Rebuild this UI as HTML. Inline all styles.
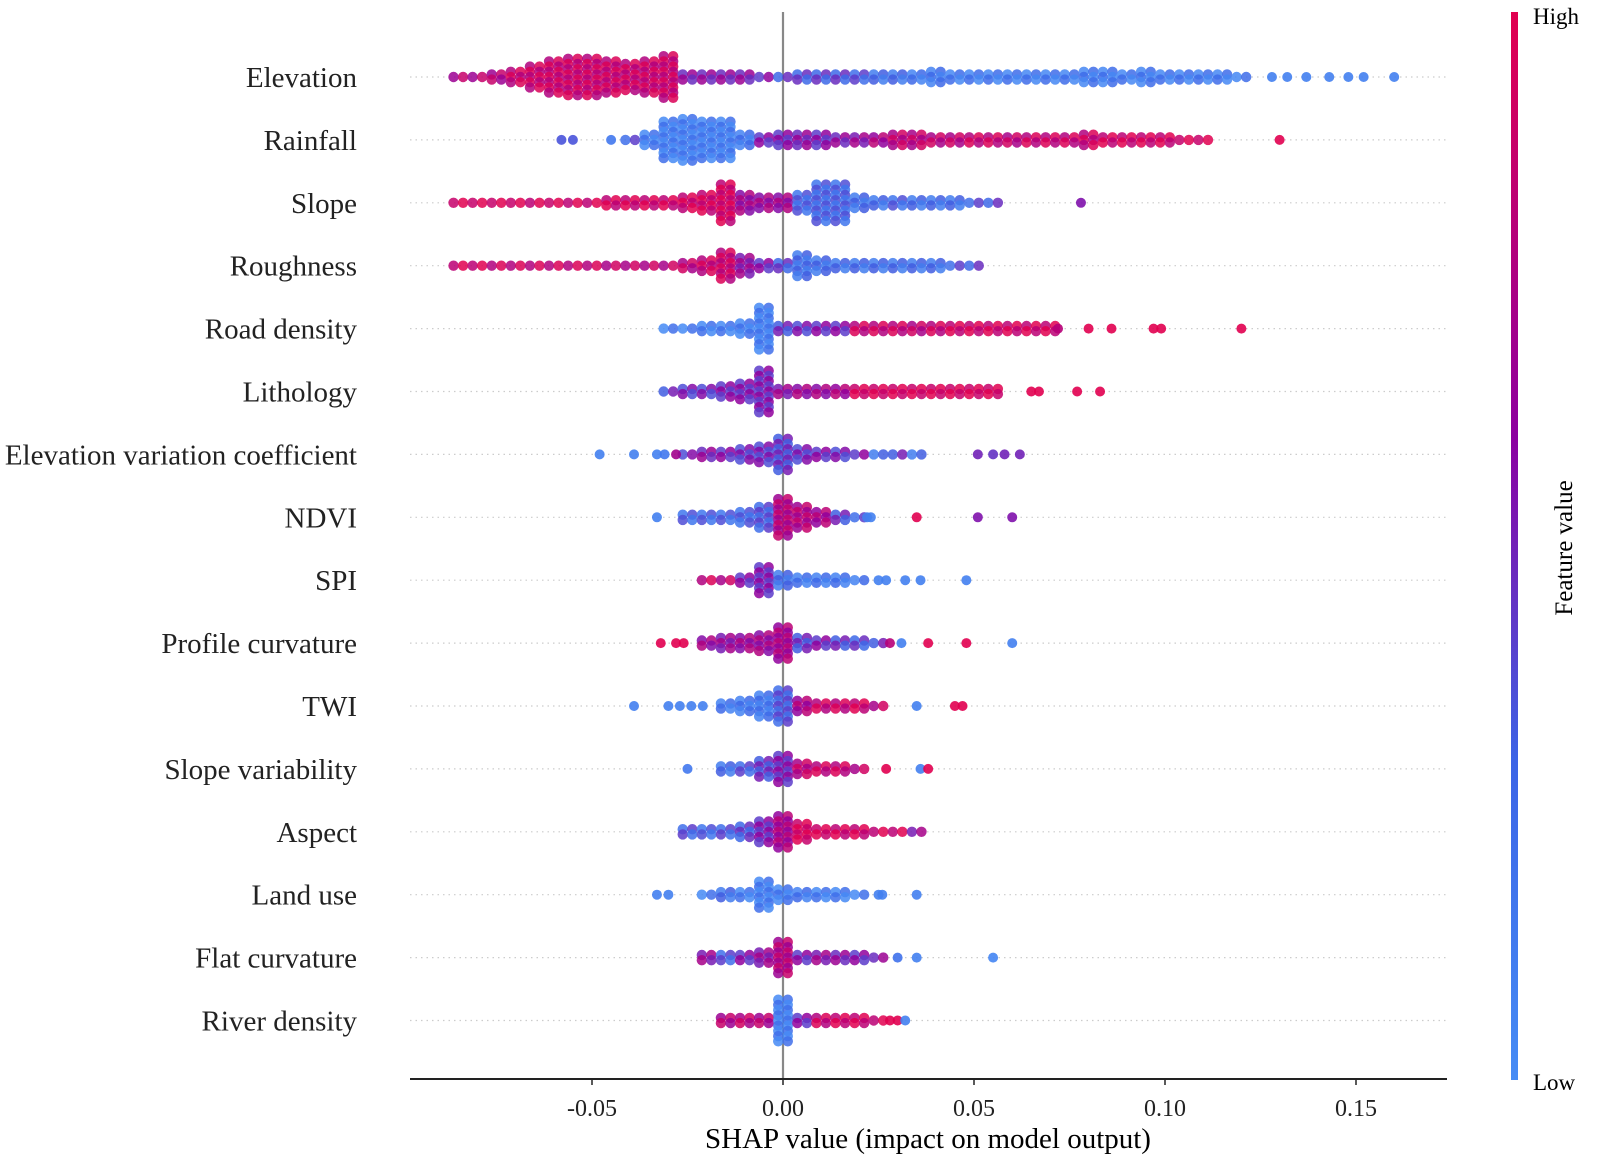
<!DOCTYPE html>
<html><head><meta charset="utf-8"><style>
body{margin:0;background:#fff;}
svg{display:block;font-family:"Liberation Serif",serif;}
</style></head><body>
<svg id="c" width="1606" height="1163" viewBox="0 0 1606 1163">
<defs><linearGradient id="cb" x1="0" y1="1" x2="0" y2="0">
<stop offset="0" stop-color="rgb(70,140,245)"/><stop offset="0.3" stop-color="rgb(60,100,230)"/>
<stop offset="0.6" stop-color="rgb(140,0,160)"/><stop offset="1" stop-color="rgb(225,0,80)"/></linearGradient></defs>
<g id="grid"></g><g id="dots"></g><g id="axes"></g>
<rect x="1511" y="12" width="7" height="1068" fill="url(#cb)"/>
<text x="1533" y="24" font-size="23">High</text>
<text x="1533" y="1090" font-size="23">Low</text>
<text transform="translate(1572,548) rotate(-90)" text-anchor="middle" font-size="25">Feature value</text>
<text x="928" y="1148" text-anchor="middle" font-size="29">SHAP value (impact on model output)</text>
</svg>
<script>
const features=["Elevation","Rainfall","Slope","Roughness","Road density","Lithology","Elevation variation coefficient","NDVI","SPI","Profile curvature","TWI","Slope variability","Aspect","Land use","Flat curvature","River density"];
const binStart=[-0.085,-0.04,-0.085,-0.085,-0.03,-0.03,-0.025,-0.025,-0.02,-0.02,-0.015,-0.015,-0.025,-0.02,-0.02,-0.015];
const binHeights=[
[1,1,2,3,5,7,8,8,7,6,7,9,2,2,2,2,1,1,2,2,2,2,2,2,2,3,2,2,2,2,2,2,2,3,3,2,3,2,2,2,2,1],
[1,3,8,9,8,8,3,2,3,3,3,2,2,2,3,3,2,2,2,2,2,2,2,2,3,2,2,2,2,1,1],
[1,1,1,1,1,1,1,1,2,2,2,2,3,4,8,4,3,3,4,8,8,3,2,2,2,2,2,1,1],
[1,1,1,1,1,1,1,1,1,1,1,1,2,3,6,4,2,2,5,3,2,2,2,2,2,2,1,1],
[1,1,2,2,3,9,2,2,2,2,2,2,2,2,2,2,2,2,2,2,2],
[1,2,2,3,4,9,2,2,2,2,2,2,2,2,2,2,2,2],
[1,2,2,3,4,7,3,2,2,1,1,1,1],
[2,2,2,3,5,8,5,3,2,1],
[1,1,2,6,3,2,2,2,1],
[2,3,3,4,7,3,2,2,2,1],
[2,3,5,7,3,2,2,2,1],
[2,2,4,6,3,2,2,1],
[2,2,2,3,5,7,4,2,2,2,1,1,1],
[1,2,2,6,3,2,2,2,1],
[2,2,2,3,7,2,2,2,2,1],
[2,2,2,9,2,2,2,2,1]];
const binColors=[
[0.75,0.75,0.75,0.85,0.85,0.85,0.85,0.85,0.85,0.85,0.85,0.85,0.55,0.55,0.55,0.55,0.5,0.35,0.35,0.35,0.35,0.3,0.2,0.2,0.15,0.15,0.12,0.12,0.12,0.12,0.12,0.12,0.12,0.12,0.12,0.12,0.12,0.12,0.12,0.12,0.12,0.12],
[0.3,0.1,0.1,0.1,0.1,0.1,0.15,0.5,0.5,0.55,0.5,0.55,0.6,0.7,0.8,0.8,0.8,0.8,0.85,0.85,0.8,0.85,0.85,0.85,0.85,0.9,0.9,0.9,0.9,0.95,0.95],
[0.95,0.95,0.95,0.95,0.9,0.95,0.9,0.9,0.9,0.9,0.9,0.9,0.9,0.9,0.9,0.65,0.65,0.65,0.25,0.25,0.25,0.2,0.2,0.25,0.2,0.2,0.2,0.3,0.35],
[0.9,0.9,0.85,0.85,0.85,0.85,0.85,0.85,0.8,0.8,0.8,0.8,0.8,0.85,0.85,0.6,0.5,0.35,0.2,0.2,0.2,0.2,0.2,0.2,0.2,0.2,0.3,0.35],
[0.1,0.1,0.1,0.1,0.1,0.1,0.4,0.45,0.5,0.5,0.85,0.85,0.85,0.8,0.85,0.9,0.9,0.9,0.9,0.9,0.9],
[0.4,0.45,0.45,0.5,0.5,0.5,0.6,0.65,0.65,0.7,0.95,0.95,0.95,0.95,0.95,0.95,0.95,0.95],
[0.45,0.55,0.5,0.45,0.45,0.4,0.45,0.5,0.45,0.5,0.2,0.4,0.2],
[0.25,0.25,0.25,0.25,0.3,0.75,0.75,0.7,0.4,0.3],
[0.85,0.8,0.5,0.5,0.2,0.15,0.15,0.15,0.15],
[0.65,0.6,0.65,0.65,0.7,0.4,0.5,0.4,0.35,0.4],
[0.15,0.15,0.15,0.3,0.7,0.85,0.85,0.9,0.8],
[0.2,0.3,0.4,0.5,0.8,0.85,0.85,0.8],
[0.3,0.25,0.3,0.35,0.5,0.7,0.95,0.95,0.9,0.9,0.9,0.9,0.6],
[0.1,0.2,0.1,0.1,0.1,0.15,0.1,0.1,0.1],
[0.6,0.3,0.5,0.6,0.75,0.5,0.6,0.55,0.5,0.55],
[0.75,0.8,0.75,0.1,0.5,0.85,0.9,0.9,0.9]];
const outVals=[
[0.128,0.132,0.137,0.143,0.148,0.152,0.16],
[-0.058,-0.055,-0.045,0.13],
[0.078],
[],
[0.072,0.08,0.086,0.097,0.099,0.12],
[0.065,0.067,0.077,0.083],
[-0.048,-0.039,-0.033,-0.031,-0.028,0.051,0.055,0.058,0.062],
[-0.033,0.022,0.023,0.035,0.051,0.06],
[0.025,0.027,0.032,0.036,0.048],
[-0.032,-0.028,-0.026,0.028,0.031,0.038,0.048,0.06],
[-0.039,-0.03,-0.027,-0.024,-0.021,0.035,0.045,0.047],
[-0.025,0.027,0.036,0.038],
[],
[-0.033,-0.03,0.025,0.026,0.035],
[0.03,0.035,0.055],
[0.028,0.03,0.032]];
const outColors=[
[0.1,0.1,0.1,0.1,0.1,0.1,0.1],
[0.35,0.35,0.15,1],
[0.55],
[],
[0.8,1,1,1,1,1],
[1,1,1,1],
[0.1,0.1,0.1,0.15,0.7,0.5,0.45,0.5,0.5],
[0.1,0.1,0.1,1,0.55,0.55],
[0.1,0.1,0.1,0.1,0.1],
[1,1,1,0.8,0.1,1,1,0.1],
[0.1,0.1,0.1,0.1,0.1,0.1,1,1],
[0.15,1,0.1,1],
[],
[0.1,0.1,0.1,0.1,0.1],
[0.2,0.1,0.05],
[1,1,0.1]];
const ticks=[-0.05,0,0.05,0.1,0.15];
const tickLabels=["-0.05","0.00","0.05","0.10","0.15"];

const NS="http://www.w3.org/2000/svg";
const X0=783,XS=3820,Y0=77,YS=62.9,L=410,R=1447,AY=1079;
const px=v=>X0+v*XS, py=i=>Y0+i*YS;
const stops=[[0,[70,140,245]],[0.3,[60,100,230]],[0.6,[140,0,160]],[1,[225,0,80]]];
function col(t){t=Math.max(0,Math.min(1,t));for(let i=1;i<stops.length;i++){if(t<=stops[i][0]){const a=stops[i-1],b=stops[i],f=(t-a[0])/(b[0]-a[0]);return "rgb("+a[1].map((c,k)=>Math.round(c+(b[1][k]-c)*f)).join(",")+")";}}return "rgb(225,0,80)";}
function mk(tag,attrs,parent){const e=document.createElementNS(NS,tag);for(const k in attrs)e.setAttribute(k,attrs[k]);parent.appendChild(e);return e;}
const G=document.getElementById('grid'),D=document.getElementById('dots'),A=document.getElementById('axes');
features.forEach((f,i)=>{
  const gl=mk('line',{x1:L,x2:R,y1:py(i),y2:py(i),stroke:'#ccc','stroke-width':1.2,'stroke-dasharray':'1.5 4'},G);
  
  
  const t=mk('text',{x:357,y:py(i)+10,'text-anchor':'end','font-size':29,fill:'#222'},A);
  t.textContent=f;
  
  
});
const vl=mk('line',{x1:X0,x2:X0,y1:12,y2:AY,stroke:'#888','stroke-width':2.2},G);


features.forEach((f,i)=>{
  const g=mk('g',{},D);
  
  
  binHeights[i].forEach((h,b)=>{
    const v=binStart[i]+b*0.005;
    [-0.00125,0.00125].forEach((o,ci)=>{
      for(let k=0;k<h;k++){
        const off=(k-(h-1)/2)*5.2;
        const c=binColors[i][b]+((k+ci)%2?0.12:-0.08);
        const d=mk('circle',{cx:px(v+o),cy:py(i)+off,r:5.2,fill:col(c),'fill-opacity':0.85},g);
        
        
      }
    });
  });
  outVals[i].forEach((v,k)=>{
    const d=mk('circle',{cx:px(v),cy:py(i),r:5,fill:col(outColors[i][k]),'fill-opacity':0.9},g);
    
    
  });
});
const ax=mk('line',{x1:L,x2:R,y1:AY,y2:AY,stroke:'#222','stroke-width':2},A);


ticks.forEach((v,k)=>{
  const tk=mk('line',{x1:px(v),x2:px(v),y1:AY,y2:AY+6,stroke:'#222','stroke-width':1.5},A);
  
  
  const t=mk('text',{x:px(v),y:AY+37,'text-anchor':'middle','font-size':24,fill:'#222'},A);
  t.textContent=tickLabels[k];
  
  
});
</script>
</body></html>
